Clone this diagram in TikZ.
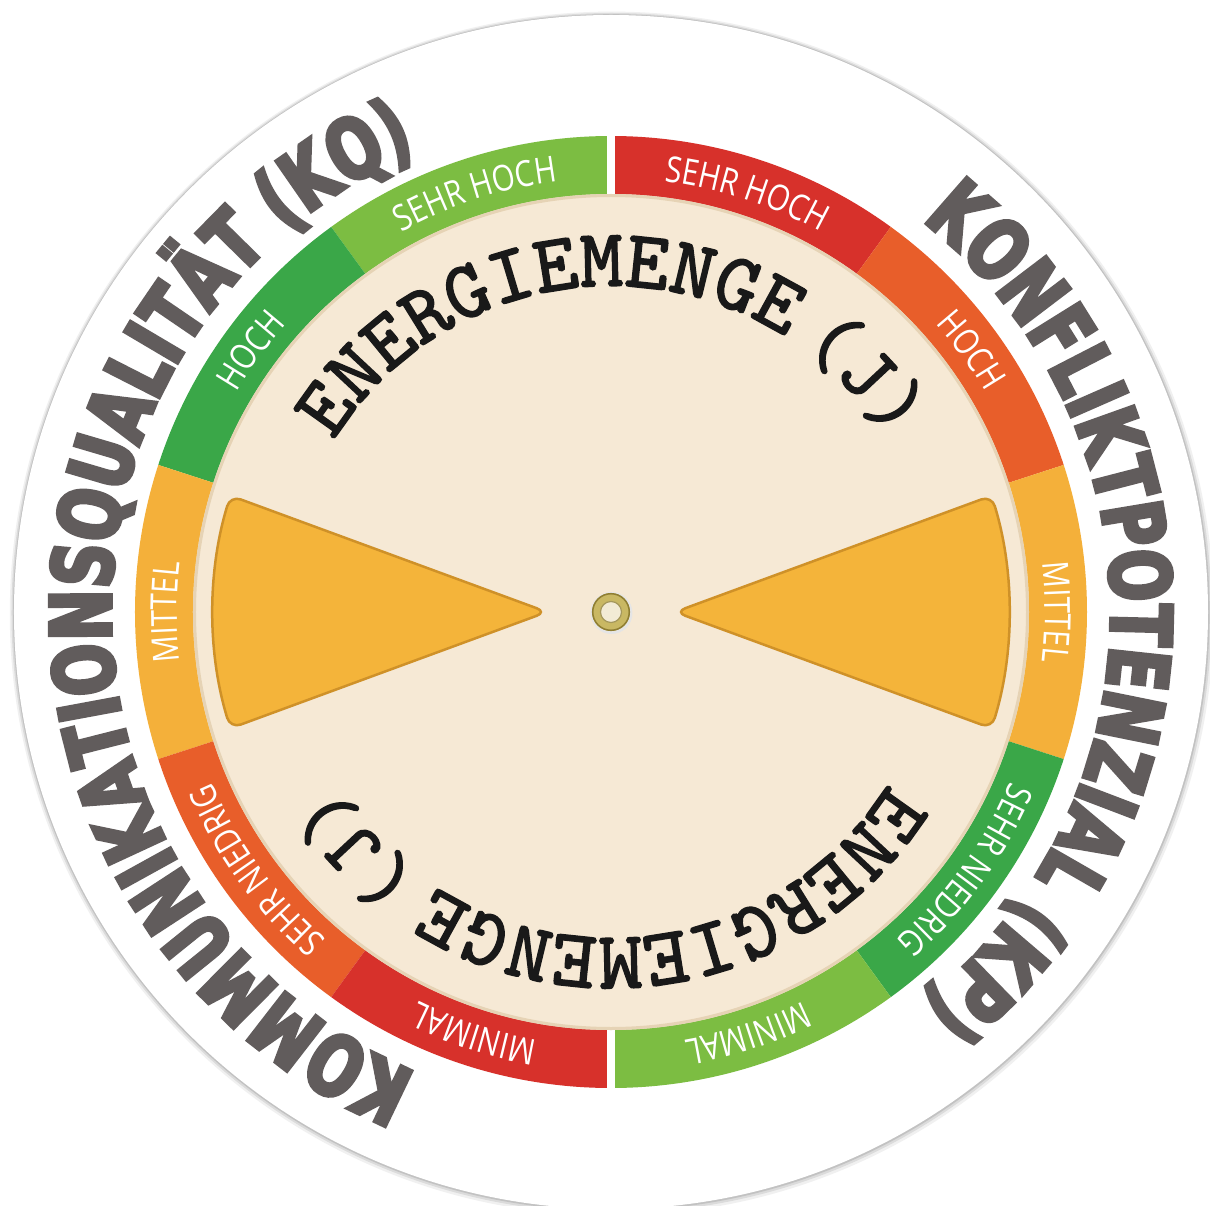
\documentclass[tikz,border=0pt]{standalone}
\usepackage{fontspec}
\usetikzlibrary{decorations.text}
\newfontfamily\ringfont{Open Sans}[FakeStretch=0.82]
\newfontfamily\bigfont{DejaVu Sans Bold}[FakeStretch=0.73,FakeBold=4.5]
\newfontfamily\typefont{lmmono10-regular.otf}[FakeBold=2]
\definecolor{lgreen}{HTML}{7CBD42}
\definecolor{mgreen}{HTML}{3AA748}
\definecolor{ylw}{HTML}{F4B03A}
\definecolor{orng}{HTML}{E85E2A}
\definecolor{rd}{HTML}{D7312B}
\definecolor{beige}{HTML}{F6E9D5}
\definecolor{beigeedge}{HTML}{E6D3B5}
\definecolor{wedgefill}{HTML}{F4B43A}
\definecolor{wedgeedge}{HTML}{CF9128}
\definecolor{gtext}{HTML}{615C5C}
\definecolor{gold}{HTML}{C9B863}
\definecolor{darkgold}{HTML}{8F7E33}
\definecolor{holein}{HTML}{F2EBD5}
\newcommand\ringstyle{\ringfont\fontsize{36}{38}\selectfont\color{white}}
\newcommand\bigstyle{\bigfont\fontsize{84}{86}\selectfont\color{gtext}}
\newcommand\typestyle{\typefont\fontsize{82}{84}\selectfont\color{black!90}}
\newcommand\smallspace{\typefont\fontsize{34}{34}\selectfont}
\tikzset{
  ringlabel/.style={decorate,decoration={text along path,text align=center,text={|\ringstyle|#1}}},
  biglabel/.style={decorate,decoration={text along path,text align=center,text={|\bigstyle|#1}}},
  typelabel/.style={decorate,decoration={text along path,text align=center,text={|\typestyle|#1}}},
  wedge/.style={fill=wedgefill,draw=wedgeedge,line width=2.5,rounded corners=11}
}
\begin{document}
\begin{tikzpicture}[x=1pt,y=1pt]
\useasboundingbox (-611,-593) rectangle (599,612);
\fill[white] (-611,-593) rectangle (599,612);
% outer disk with soft edge
\fill[black!6] (0.8,-1.6) circle (602);
\fill[black!14] (0.5,-1) circle (600);
\fill[black!24] (0.3,-0.5) circle (598.3);
\fill[white] (0,0) circle (597);
% ring segments
\foreach \a/\b/\c in {90/126/lgreen,126/162/mgreen,162/198/ylw,198/234/orng,234/270/rd,
                      54/90/rd,18/54/orng,-18/18/ylw,-54/-18/mgreen,-90/-54/lgreen}
  \fill[\c] (0,0) -- (\a:476) arc[start angle=\a,end angle=\b,radius=476] -- cycle;
% white dividers
\draw[white,line width=8] (90:410) -- (90:480);
\draw[white,line width=8] (270:410) -- (270:480);
% beige disk
\fill[beige] (0,0) circle (418);
\draw[beigeedge,line width=3] (0,0) circle (416.5);
% wedges
\path[wedge] (-64,0) -- (163:398) arc[start angle=163,end angle=197,radius=398] -- cycle;
\path[wedge] (64,0) -- (-17:398) arc[start angle=-17,end angle=17,radius=398] -- cycle;
% centre hole
\fill[black!10] (0.5,-1) circle (21);
\fill[gold] (0,0) circle (19);
\draw[darkgold,line width=1.5] (0,0) circle (18.3);
\fill[holein] (0,0) circle (10.5);
\draw[darkgold!80,line width=1.2] (0,0) circle (10.5);
% ring labels (left half)
\path[ringlabel={SEHR HOCH}] (128:434) arc[start angle=128,end angle=88,radius=434];
\path[ringlabel={HOCH}] (164:434) arc[start angle=164,end angle=124,radius=434];
\path[ringlabel={MITTEL}] (200:434) arc[start angle=200,end angle=160,radius=434];
\path[ringlabel={SEHR NIEDRIG}] (236:434) arc[start angle=236,end angle=196,radius=434];
\path[ringlabel={MINIMAL}] (272:434) arc[start angle=272,end angle=232,radius=434];
% ring labels (right half)
\path[ringlabel={SEHR HOCH}] (92:434) arc[start angle=92,end angle=52,radius=434];
\path[ringlabel={HOCH}] (56:434) arc[start angle=56,end angle=16,radius=434];
\path[ringlabel={MITTEL}] (20:434) arc[start angle=20,end angle=-20,radius=434];
\path[ringlabel={SEHR NIEDRIG}] (-16:434) arc[start angle=-16,end angle=-56,radius=434];
\path[ringlabel={MINIMAL}] (-52:434) arc[start angle=-52,end angle=-92,radius=434];
% outer titles
\path[biglabel={KOMMUNIKATIONSQUALITÄT (KQ)}] (268:500) arc[start angle=268,end angle=92,radius=500];
\path[biglabel={KONFLIKTPOTENZIAL (KP)}] (88:500) arc[start angle=88,end angle=-88,radius=500];
% inner titles
\path[typelabel={ENERGIEMENGE|\smallspace| |\typestyle|(J)}] (172:326) arc[start angle=172,end angle=8,radius=326];
\path[typelabel={ENERGIEMENGE|\smallspace| |\typestyle|(J)}] (352:326) arc[start angle=352,end angle=188,radius=326];
\end{tikzpicture}
\end{document}
